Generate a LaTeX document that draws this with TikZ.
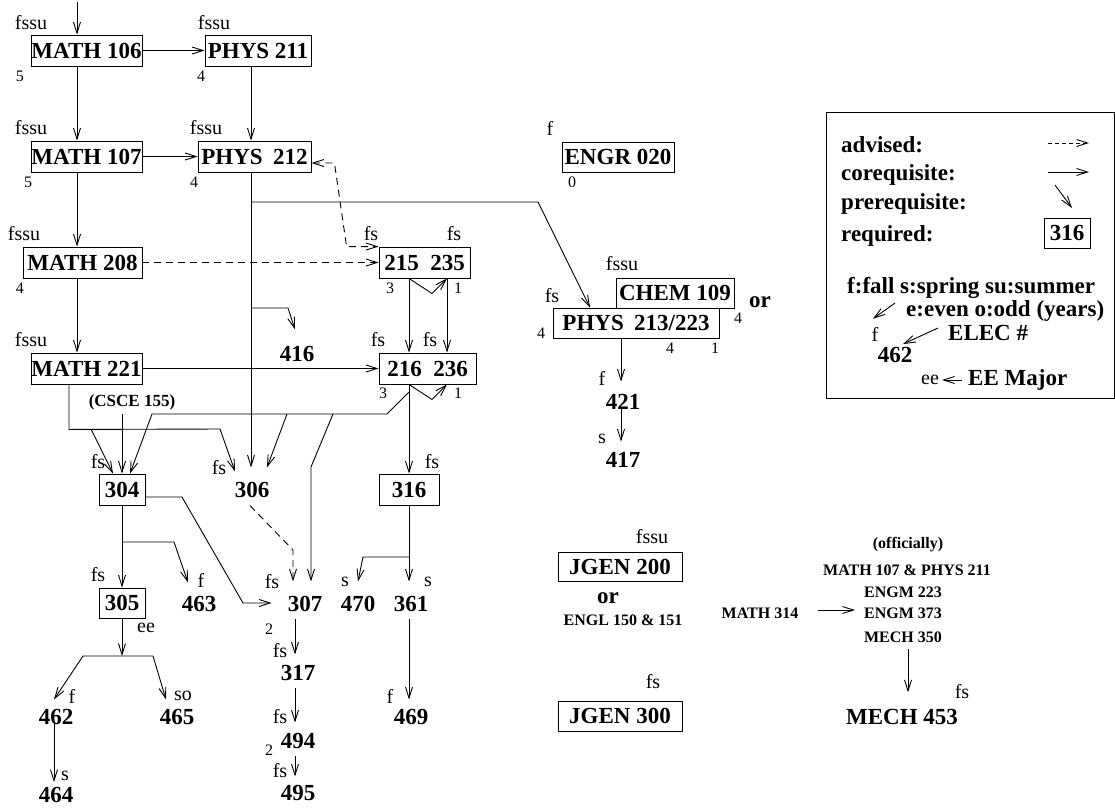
\documentclass[tikz,border=0pt]{standalone}
\usepackage{fontspec}
\setmainfont{Liberation Serif}
\usetikzlibrary{arrows.meta,calc}
\newcommand\mybig{\fontsize{23}{27}\selectfont\bfseries}
\newcommand\mysmb{\fontsize{16}{19}\selectfont\bfseries}
\newcommand\mylab{\fontsize{20}{23}\selectfont}
\newcommand\mycr{\fontsize{16}{19}\selectfont}
\begin{document}
\begin{tikzpicture}[x=1pt,y=-1pt,
  every node/.style={inner sep=0pt},
  box/.style={draw,line width=0.9pt,font=\mybig,inner sep=0pt},
  num/.style={font=\mybig},
  lab/.style={font=\mylab},
  cr/.style={font=\mycr},
  smb/.style={font=\mysmb},
  pre/.style={line width=0.9pt,-{Straight Barb[length=11pt,width=7pt]}},
  adv/.style={pre,dash pattern=on 7pt off 5pt},
  dbl/.style={line width=0.9pt,dash pattern=on 7pt off 5pt,{Straight Barb[length=11pt,width=7pt]}-{Straight Barb[length=11pt,width=7pt]}},
  ]
\useasboundingbox (0,0) rectangle (1115,807);

% ---------- boxes ----------
\node[box,minimum width=111,minimum height=31] (m106) at (86.5,50.5) {MATH 106};
\node[box,minimum width=106,minimum height=31] (p211) at (258,50.5) {PHYS 211};
\node[box,minimum width=111,minimum height=31] (m107) at (86.5,156.5) {MATH 107};
\node[box,minimum width=113,minimum height=31] (p212) at (254.5,156.5) {PHYS\hspace{0.45em}212};
\node[box,minimum width=112,minimum height=30] (engr) at (618,157) {ENGR 020};
\node[box,minimum width=119,minimum height=31] (m208) at (82.5,262.5) {MATH 208};
\node[box,minimum width=111,minimum height=31] (m221) at (86.5,368.5) {MATH 221};
\node[box,minimum width=91,minimum height=31] (b215) at (424.5,262.5) {215\hspace{0.5em}235};
\node[box,minimum width=97,minimum height=31] (b216) at (427.5,368.5) {216\hspace{0.5em}236};
\node[box,minimum width=118,minimum height=30] (chem) at (675,293) {CHEM 109};
\node[box,minimum width=166,minimum height=30] (p213) at (636,323) {PHYS\hspace{0.45em}213/223};
\node[box,minimum width=46,minimum height=31] (b304) at (122,489.5) {304};
\node[box,minimum width=60,minimum height=31] (b316) at (409,489.5) {316};
\node[box,minimum width=46,minimum height=30] (b305) at (122,603) {305};
\node[box,minimum width=124,minimum height=29] (jg2) at (620,566.5) {JGEN 200};
\node[box,minimum width=124,minimum height=30] (jg3) at (620,716) {JGEN 300};

% ---------- plain course numbers ----------
\node[num] (n416) at (297,354) {416};
\node[num] (n306) at (252,490) {306};
\node[num] (n307) at (305,604) {307};
\node[num] (n470) at (358,604) {470};
\node[num] (n361) at (411,604) {361};
\node[num] (n463) at (199,604) {463};
\node[num] (n462) at (56,717) {462};
\node[num] (n465) at (177,717) {465};
\node[num] (n464) at (56,795) {464};
\node[num] (n317) at (298,673) {317};
\node[num] (n494) at (298,741) {494};
\node[num] (n495) at (298,793) {495};
\node[num] (n469) at (411,717) {469};
\node[num] (n421) at (623,402) {421};
\node[num] (n417) at (623,460) {417};
\node[num] (or1) at (760,302) {or};
\node[num] (or2) at (608,598) {or};
\node[num] (m453) at (902,717) {MECH 453};

\node[font=\fontsize{17}{20}\selectfont\bfseries] (csce) at (132,402) {(CSCE 155)};
\node[smb] (engl) at (623,620) {ENGL 150 \& 151};
\node[smb] (offic) at (908,545) {(officially)};
\node[smb] (mp) at (907,570) {MATH 107 \& PHYS 211};
\node[smb] (e223) at (903,592) {ENGM 223};
\node[smb] (e373) at (903,613) {ENGM 373};
\node[smb] (m350) at (903,637) {MECH 350};
\node[smb] (m314) at (760,613) {MATH 314};

% ---------- season labels ----------
\node[lab] (l1) at (31,23) {fssu};
\node[lab] (l2) at (214,23) {fssu};
\node[lab] (l3) at (31,128) {fssu};
\node[lab] (l4) at (206,128) {fssu};
\node[lab] (l5) at (24,234) {fssu};
\node[lab] (l6) at (31,340) {fssu};
\node[lab] (l7) at (622,264) {fssu};
\node[lab] (l8) at (652,537) {fssu};
\node[lab] (l9) at (371,234) {fs};
\node[lab] (l10) at (454,234) {fs};
\node[lab] (l11) at (378,340) {fs};
\node[lab] (l12) at (430,340) {fs};
\node[lab] (l13) at (552,296) {fs};
\node[lab] (l14) at (98,462) {fs};
\node[lab] (l15) at (219,468) {fs};
\node[lab] (l16) at (432,462) {fs};
\node[lab] (l17) at (98,575) {fs};
\node[lab] (l18) at (272,582) {fs};
\node[lab] (l19) at (280,651) {fs};
\node[lab] (l20) at (280,717) {fs};
\node[lab] (l21) at (280,771) {fs};
\node[lab] (l22) at (653,682) {fs};
\node[lab] (l23) at (962,692) {fs};
\node[lab] (l24) at (550,128) {f};
\node[lab] (l25) at (602,378) {f};
\node[lab] (l26) at (201,580) {f};
\node[lab] (l27) at (72,696) {f};
\node[lab] (l28) at (390,696) {f};
\node[lab] (l29) at (602,439) {s};
\node[lab] (l30) at (345,582) {s};
\node[lab] (l31) at (428,582) {s};
\node[lab] (l32) at (65,776) {s};
\node[lab] (l33) at (183,696) {so};
\node[lab] (l34) at (146,628) {ee};

% ---------- credits ----------
\node[cr] (c1) at (20,76) {5};
\node[cr] (c2) at (201,76) {4};
\node[cr] (c3) at (28,182) {5};
\node[cr] (c4) at (194,182) {4};
\node[cr] (c5) at (20,288) {4};
\node[cr] (c6) at (572,182) {0};
\node[cr] (c7) at (390,288) {3};
\node[cr] (c8) at (458,288) {1};
\node[cr] (c9) at (383,393) {3};
\node[cr] (c10) at (458,393) {1};
\node[cr] (c11) at (541,333) {4};
\node[cr] (c12) at (738,318) {4};
\node[cr] (c13) at (670,348) {4};
\node[cr] (c14) at (715,348) {1};
\node[cr] (c15) at (269,629) {2};
\node[cr] (c16) at (269,750) {2};

% ---------- connectors ----------
\coordinate (top) at (77,2);
\draw[pre] (top) -- ([xshift=-9.5]m106.north);
\draw[pre] (m106.east) -- (p211.west);
\draw[pre] ([xshift=-9.5]m106.south) -- ([xshift=-9.5]m107.north);
\draw[pre] ([xshift=-7]p211.south) -- ([xshift=-7]p211.south |- p212.north);
\draw[pre] (m107.east) -- (p212.west);
\draw[pre] ([xshift=-9.5]m107.south) -- ([xshift=-9.5]m107.south |- m208.north);
\draw[pre] ([xshift=-5.5]m208.south) -- ([xshift=-5.5]m208.south |- m221.north);
\draw[adv] (m208.east) -- (b215.west);
\draw[dbl] ([yshift=-6.5]p212.east) -- ++(23,0) -- ([xshift=-32]b215.north west) -- (b215.north west);
\draw[pre] ([xshift=-3.5]p212.south) -- ([xshift=-1,yshift=14.6]n306.north);
\coordinate (j1) at (251,202);
\draw[pre] (j1) -- (538,202) -- ([xshift=-46]p213.north);
\coordinate (j2) at (251,308);
\draw[pre] (j2) -- (288,308) -- ([xshift=-2,yshift=16.6]n416.north);
\draw[pre] (m221.east) -- (b216.west);
\draw[pre] ([xshift=-15.5]b215.south) -- ([xshift=-15.5]b215.south |- b216.north);
\draw[pre] ([xshift=22.5]b215.south) -- ([xshift=22.5]b215.south |- b216.north);
\draw[pre] ([xshift=-15.5]b215.south) -- ++(23,15) -- ([xshift=22.5]b215.south);
\draw[pre] ([xshift=-18.5]b216.south) -- ++(23,15) -- ([xshift=19.5]b216.south);
\draw[pre] ([xshift=-18.5]b216.south) -- (b316.north);
\coordinate (j3) at (409,392);
\draw[pre] (j3) -- (387,414) -- (152,414) -- ([xshift=8]b304.north);
\coordinate (j4) at (287,414);
\draw[pre] (j4) -- ([xshift=15,yshift=14.6]n306.north);
\coordinate (j5) at (333,414);
\draw[pre] (j5) -- (311,467) -- ([xshift=6,yshift=14.6]n307.north);
\draw[pre] ([xshift=-17.5]m221.south) -- ++(0,45) -- (220,429) -- ([xshift=-17,yshift=10.6]n306.north);
\coordinate (j6) at (69,429);
\draw[pre] ([xshift=22]j6) -- ([xshift=-9]b304.north);
\draw[pre] ([xshift=-10,yshift=-4]csce.south) -- (b304.north);
\draw[pre] ([yshift=-7.5]b304.east) -- (182,497) -- (243,603) -- ([xshift=-16,yshift=1]n307.west);
\draw[pre] (b304.south) -- (b305.north);
\coordinate (j7) at (122,542);
\draw[pre] (j7) -- (174,542) -- ([xshift=-11,yshift=13.6]n463.north);
\coordinate (j8) at (122,656);
\draw[pre] (b305.south) -- (j8);
\draw[pre] (j8) -- ++(-39,0) -- ([xshift=-2,yshift=9.6]n462.north);
\draw[pre] (j8) -- ++(31,0) -- ([xshift=-11,yshift=9.6]n465.north);
\draw[pre] ([xshift=-2,yshift=1]n462.south) -- ([xshift=-2,yshift=5]n464.north);
\draw[pre] ([xshift=-10,yshift=-6.6]n307.south) -- ([xshift=-3,yshift=10.6]n317.north);
\draw[pre] ([xshift=-3,yshift=-6.6]n317.south) -- ([xshift=-3,yshift=10.6]n494.north);
\draw[pre] ([xshift=-3,yshift=-6.6]n494.south) -- ([xshift=-3,yshift=8.6]n495.north);
\draw[pre] (b316.south) -- ([xshift=-2,yshift=14.6]n361.north);
\coordinate (j9) at (409,557);
\draw[pre] (j9) -- (363,557) -- ([yshift=14.6]n470.north);
\draw[pre] ([xshift=-2,yshift=-6.6]n361.south) -- ([xshift=-2,yshift=9.6]n469.north);
\draw[adv] ([xshift=-2,yshift=-7.6]n306.south) -- (293,550) -- ([xshift=-12,yshift=14.6]n307.north);
\draw[pre] ([xshift=-15]p213.south) -- ([xshift=-2,yshift=12.6]n421.north);
\draw[pre] ([xshift=-2,yshift=2]n421.south) -- ([xshift=-2,yshift=10.6]n417.north);
\draw[pre] ([xshift=19,yshift=3]m314.east) -- ([xshift=-9,yshift=3]e373.west);
\draw[pre] ([xshift=5,yshift=-6]m350.south) -- ([xshift=6,yshift=16.7]m453.north);

% ---------- legend ----------
\node[draw,line width=0.9pt,minimum width=288,minimum height=286] (legend) at (970,255) {};
\node[num,anchor=west] (ladv) at (841,145) {advised:};
\node[num,anchor=west] (lcor) at (841,175) {corequisite:};
\node[num,anchor=west] (lpre) at (841,204) {prerequisite:};
\node[num,anchor=west] (lreq) at (841,236) {required:};
\node[box,minimum width=46,minimum height=30] (l316) at (1067,233) {316};
\coordinate (a1) at (1048,143); \coordinate (a2) at (1089,143);
\draw[pre,dash pattern=on 4pt off 3pt] (a1) -- (a2);
\coordinate (a3) at (1048,172); \coordinate (a4) at (1089,172);
\draw[pre] (a3) -- (a4);
\coordinate (a5) at (1055,185); \coordinate (a6) at (1072,208);
\draw[pre] (a5) -- (a6);
\node[num,anchor=west] (lfall) at (847,288) {f:fall s:spring su:summer};
\node[num,anchor=west] (leven) at (906,311) {e:even o:odd (years)};
\node[lab] (lf) at (875,334) {f};
\node[num,anchor=west] (lelec) at (948,333) {ELEC \#};
\node[num] (l462) at (895,355) {462};
\node[lab] (lee) at (930,380) {ee};
\node[num,anchor=west] (lmaj) at (968,380) {EE Major};
\draw[pre] ([xshift=-11,yshift=8]leven.west) -- ([xshift=-2,yshift=8]lf.north);
\draw[pre] ([xshift=-10,yshift=5]lelec.west) -- ([xshift=8,yshift=3]l462.north);
\draw[pre] ([xshift=-6]lmaj.west) -- ([xshift=3]lee.east);
\end{tikzpicture}
\end{document}
